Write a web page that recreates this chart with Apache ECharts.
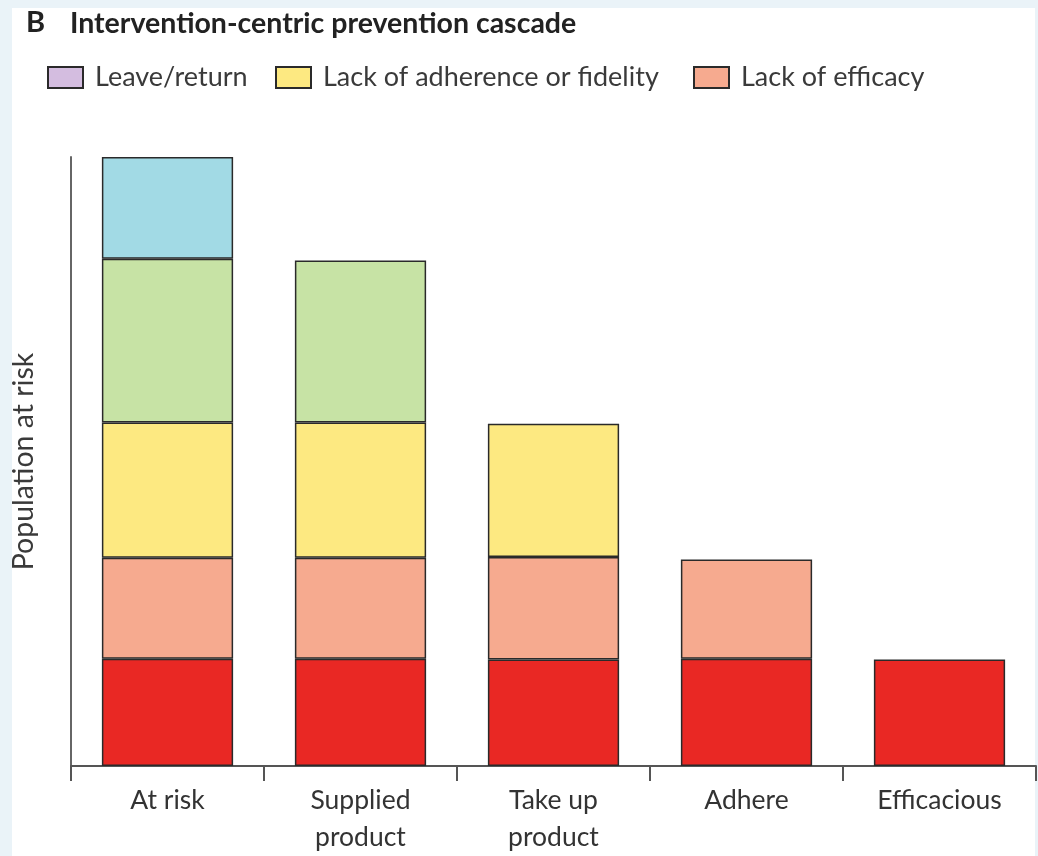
<!DOCTYPE html>
<html>
<head>
<meta charset="utf-8">
<script src="https://cdn.jsdelivr.net/npm/echarts@6/dist/echarts.min.js"></script>
<style>
  html, body { margin: 0; padding: 0; }
  #chart { width: 1038px; height: 856px; }
</style>
</head>
<body>
<div id="chart"></div>
<script>
// cascade stages
const stages = ['At risk', 'Supplied\nproduct', 'Take up\nproduct', 'Adhere', 'Efficacious'];

// stacked segments, bottom to top (share of the at-risk population)
const efficacious = [17.6, 17.6, 17.5, 17.6, 17.5];
const lackEfficacy = [16.6, 16.6, 16.8, 16.3, '-'];
const lackAdherence = [22.2, 22.2, 21.9, '-', '-'];
const notTakenUp = [26.9, 26.6, '-', '-', '-'];
const notSupplied = [16.7, '-', '-', '-', '-'];
const leaveReturn = ['-', '-', '-', '-', '-'];

const FONT = 'Lato, "Open Sans", sans-serif';
const edge = { borderColor: '#2a2a2a', borderWidth: 1.5 };

const chart = echarts.init(document.getElementById('chart'));

const makeBar = (name, data, color) => ({
  name: name,
  type: 'bar',
  stack: 'cascade',
  barWidth: '68%',
  data: data,
  itemStyle: Object.assign({ color: color }, edge),
  emphasis: { disabled: true }
});

const legendText = { fontFamily: FONT, fontSize: 27, color: '#3a3a3a', padding: [0, 0, 0, 7] };
const makeLegend = (name, left) => ({
  data: [name],
  left: left,
  top: 64,
  padding: 0,
  itemWidth: 35,
  itemHeight: 21,
  icon: 'rect',
  selectedMode: false,
  textStyle: legendText
});

chart.setOption({
  animation: false,
  backgroundColor: '#eaf3f8',
  graphic: [{
    type: 'rect',
    z: -10,
    silent: true,
    shape: { x: 12, y: 8, width: 1023, height: 848 },
    style: { fill: '#ffffff' }
  }],
  title: [
    { text: 'B', left: 26, top: 8, padding: 0, textStyle: { fontFamily: FONT, fontSize: 29, fontWeight: 'bold', color: '#222' } },
    { text: 'Intervention-centric prevention cascade', left: 70, top: 9, padding: 0, textStyle: { fontFamily: FONT, fontSize: 28.5, fontWeight: 'bold', color: '#222' } }
  ],
  legend: [
    makeLegend('Leave/return', 47),
    makeLegend('Lack of adherence or fidelity', 275),
    makeLegend('Lack of efficacy', 693)
  ],
  grid: { left: 71, right: 2, top: 157, bottom: 86 },
  xAxis: {
    type: 'category',
    data: stages,
    axisLine: { lineStyle: { color: '#555', width: 2 } },
    axisTick: { show: true, length: 15, lineStyle: { color: '#555', width: 2 } },
    axisLabel: { fontFamily: FONT, fontSize: 26.5, color: '#333', lineHeight: 37, margin: 16 }
  },
  yAxis: {
    type: 'value',
    min: 0,
    max: 100,
    name: 'Population at risk',
    nameLocation: 'middle',
    nameGap: 33,
    nameTextStyle: { fontFamily: FONT, fontSize: 28.5, color: '#3a3a3a' },
    axisLine: { show: true, lineStyle: { color: '#666', width: 2 } },
    axisTick: { show: false },
    axisLabel: { show: false },
    splitLine: { show: false }
  },
  series: [
    makeBar('Efficacious', efficacious, '#e92824'),
    makeBar('Lack of efficacy', lackEfficacy, '#f6aa8f'),
    makeBar('Lack of adherence or fidelity', lackAdherence, '#fde981'),
    makeBar('Not taken up', notTakenUp, '#c7e3a5'),
    makeBar('Not supplied', notSupplied, '#a2dae5'),
    makeBar('Leave/return', leaveReturn, '#d4bde0')
  ]
});
</script>
</body>
</html>
